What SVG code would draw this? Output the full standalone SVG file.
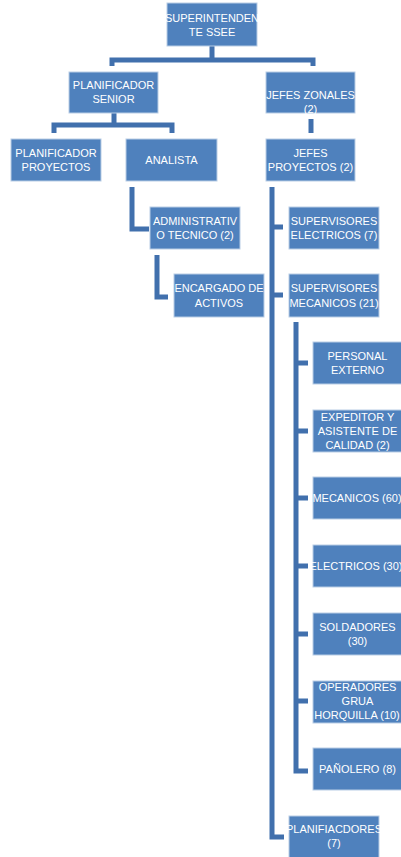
<svg xmlns="http://www.w3.org/2000/svg" width="401" height="857" viewBox="0 0 401 857">
<style>
.b{fill:#4F81BD;stroke:#B9CDE5;stroke-width:1}
.t{font-family:"Liberation Sans",Arial,sans-serif;font-size:11px;fill:#fff;text-anchor:middle}
.c{fill:none;stroke:#4170AD;stroke-width:5;stroke-linejoin:miter;stroke-linecap:butt}
</style>
<rect width="401" height="857" fill="#fff"/>
<g id="connectors">
<path class="c" d="M212,46 V60 M112,66 V60 H313 V66"/>
<path class="c" d="M114,113 V125 M54,133 V125 H172 V133"/>
<path class="c" d="M311,119 V133"/>
<path class="c" d="M132,187 V229 H149"/>
<path class="c" d="M157,255 V297 H168"/>
<path class="c" d="M272,187 V837 H284 M272,227 H283 M272,295 H283"/>
<path class="c" d="M296,322 V771 H308 M296,363 H308 M296,431 H308 M296,498 H308 M296,566 H308 M296,634 H308 M296,701 H308"/>
</g>
<g id="superintendente"><rect class="b" x="167" y="3" width="90" height="43"/><text class="t" x="212" y="21.5">SUPERINTENDEN</text><text class="t" x="212" y="35.5">TE SSEE</text></g>
<g id="planificador-senior"><rect class="b" x="69" y="72" width="89" height="41"/><text class="t" x="113.5" y="89">PLANIFICADOR</text><text class="t" x="113.5" y="103">SENIOR</text></g>
<g id="jefes-zonales"><rect class="b" x="266" y="72" width="89" height="41"/><text class="t" x="310.5" y="99">JEFES ZONALES</text><text class="t" x="310.5" y="113">(2)</text></g>
<g id="planificador-proyectos"><rect class="b" x="11" y="139" width="90" height="42"/><text class="t" x="56" y="157">PLANIFICADOR</text><text class="t" x="56" y="171">PROYECTOS</text></g>
<g id="analista"><rect class="b" x="126" y="139" width="91" height="42"/><text class="t" x="171.5" y="163.5">ANALISTA</text></g>
<g id="jefes-proyectos"><rect class="b" x="266" y="139" width="89" height="42"/><text class="t" x="310.5" y="157">JEFES</text><text class="t" x="310.5" y="171">PROYECTOS (2)</text></g>
<g id="administrativo-tecnico"><rect class="b" x="150" y="207" width="90" height="42"/><text class="t" x="195" y="225">ADMINISTRATIV</text><text class="t" x="195" y="239">O TECNICO (2)</text></g>
<g id="supervisores-electricos"><rect class="b" x="289" y="207" width="90" height="42"/><text class="t" x="334" y="225">SUPERVISORES</text><text class="t" x="334" y="239">ELECTRICOS (7)</text></g>
<g id="encargado-activos"><rect class="b" x="174" y="274" width="90" height="43"/><text class="t" x="219" y="292">ENCARGADO DE</text><text class="t" x="219" y="307">ACTIVOS</text></g>
<g id="supervisores-mecanicos"><rect class="b" x="289" y="274" width="90" height="43"/><text class="t" x="334" y="292">SUPERVISORES</text><text class="t" x="334" y="307">MECANICOS (21)</text></g>
<g id="personal-externo"><rect class="b" x="313" y="342" width="89" height="42"/><text class="t" x="357.5" y="360">PERSONAL</text><text class="t" x="357.5" y="374">EXTERNO</text></g>
<g id="expeditor"><rect class="b" x="313" y="410" width="89" height="42"/><text class="t" x="357.5" y="421">EXPEDITOR Y</text><text class="t" x="357.5" y="435">ASISTENTE DE</text><text class="t" x="357.5" y="449">CALIDAD (2)</text></g>
<g id="mecanicos"><rect class="b" x="313" y="477" width="89" height="42"/><text class="t" x="357" y="502">MECANICOS (60)</text></g>
<g id="electricos"><rect class="b" x="313" y="545" width="89" height="42"/><text class="t" x="356" y="570">ELECTRICOS (30)</text></g>
<g id="soldadores"><rect class="b" x="313" y="613" width="89" height="42"/><text class="t" x="357.5" y="631">SOLDADORES</text><text class="t" x="357.5" y="645">(30)</text></g>
<g id="operadores"><rect class="b" x="313" y="681" width="89" height="42"/><text class="t" x="357.5" y="691">OPERADORES</text><text class="t" x="357.5" y="705">GRUA</text><text class="t" x="357" y="719">HORQUILLA (10)</text></g>
<g id="panolero"><rect class="b" x="313" y="748" width="89" height="42"/><text class="t" x="357.5" y="773">PAÑOLERO (8)</text></g>
<g id="planificadores"><rect class="b" x="289" y="816" width="90" height="42"/><text class="t" x="334" y="833">PLANIFIACDORES</text><text class="t" x="334" y="847">(7)</text></g>
</svg>
